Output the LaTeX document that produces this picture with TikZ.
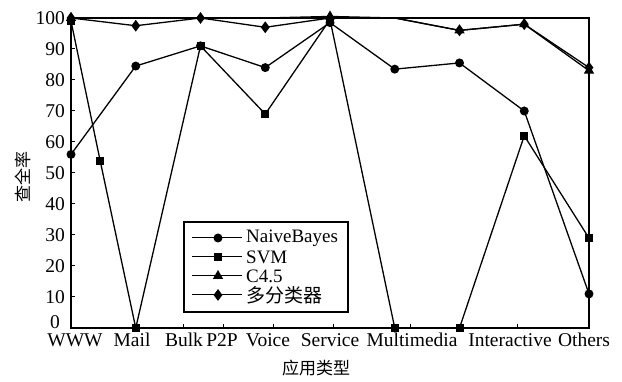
\documentclass[tikz,border=0pt]{standalone}
\usepackage{fontspec}
\setmainfont{Liberation Serif}
\newfontfamily\cjk{Noto Sans CJK SC}
\usetikzlibrary{shapes.geometric,positioning}
\tikzset{
  series/.style={line width=1.3pt},
  dot/.style={circle,fill=black,inner sep=0pt,minimum size=9pt},
  sq/.style={rectangle,fill=black,inner sep=0pt,minimum size=8pt},
  tri/.style={regular polygon,regular polygon sides=3,fill=black,inner sep=0pt,minimum size=12pt},
  dia/.style={diamond,fill=black,inner sep=0pt,minimum width=9pt,minimum height=12pt},
  lab/.style={font=\fontsize{19.5}{19.5}\selectfont,inner sep=0pt},
  keylab/.style={font=\fontsize{19}{19}\selectfont,inner sep=0pt},
  cjklab/.style={font=\cjk\fontsize{17}{17}\selectfont,inner sep=0pt},
}
\begin{document}
\begin{tikzpicture}[x=1pt,y=1pt]
   \useasboundingbox (0,0) rectangle (622,382);
   \coordinate (ll) at (71,54);
   \coordinate (ur) at (589,364);
   % axes frame
   \draw[line width=1.6pt] (ll) rectangle (ur);
   \foreach \v in {10,20,...,100} {
      \draw[line width=1pt] (71,{54+3.1*\v}) -- ++(4,0);
      \node[lab,anchor=east] (y\v) at (65,{54+3.1*\v}) {\v};
   }
   \node[lab,anchor=east] (y0) at (60,60) {0};
   \foreach \xx in {183,223,273,333,410,517}
      \draw[line width=1pt] (\xx,54) -- ++(0,4);
   \foreach \lab/\xx in {WWW/75,Mail/132,Bulk/184,P2P/222,Voice/268,Service/330,Multimedia/412,Interactive/510,Others/584}
      \node[lab,anchor=base] (x\lab) at (\xx,35) {\lab};
   \node[cjklab] (xtitle) at (316,14) {应用类型};
   \node[cjklab,rotate=90] (ytitle) at (23,205) {查全率};
   % data points
   \foreach \n/\p/\v in {0/0/56,1/1/84.5,2/2/91,3/3/84,4/4/98.5,5/5/83.5,6/6/85.5,7/7/70,8/8/11}
      \coordinate (nb\n) at ({71+64.75*\p},{54+3.1*\v});
   \foreach \n/\p/\v in {0/0/99,a/0.45/54,1/1/0,2/2/91,3/3/69,4/4/99.5,5/5/0,6/6/0,7/7/62,8/8/29}
      \coordinate (sv\n) at ({71+64.75*\p},{54+3.1*\v});
   \foreach \n/\p/\v in {0/0/100,1/1/100,2/2/100,3/3/100,4/4/100.5,5/5/100,6/6/96,7/7/98,8/8/83}
      \coordinate (ct\n) at ({71+64.75*\p},{54+3.1*\v});
   \foreach \n/\p/\v in {0/0/100,1/1/97.5,2/2/100,3/3/97,4/4/100,5/5/100,6/6/96,7/7/98,8/8/84}
      \coordinate (mc\n) at ({71+64.75*\p},{54+3.1*\v});
   \draw[series] (nb0) \foreach \i in {1,...,8} {-- (nb\i)};
   \draw[series] (sv0) -- (sva) \foreach \i in {1,...,8} {-- (sv\i)};
   \draw[series] (ct0) \foreach \i in {1,...,8} {-- (ct\i)};
   \draw[series] (mc0) \foreach \i in {1,...,8} {-- (mc\i)};
   \foreach \i in {0,...,8} {
      \node[dot] (nbm\i) at (nb\i) {};
      \node[sq] (svm\i) at (sv\i) {};
   }
   \node[sq] (svma) at (sva) {};
   \foreach \i in {0,4,6,7,8}
      \node[tri] (ctm\i) at (ct\i) {};
   \foreach \i in {0,1,2,3,4,6,7,8}
      \node[dia] (mcm\i) at (mc\i) {};
   % legend
   \draw[line width=1.2pt,fill=white] (184,70) rectangle (348,160);
   \foreach \n/\yy/\m/\t in {nb/144/dot/NaiveBayes,sv/125/sq/SVM,ct/106/tri/C4.5,mc/87/dia/{\cjk 多分类器}} {
      \coordinate (\n a) at (192,\yy);
      \coordinate (\n b) at (242,\yy);
      \draw[line width=1pt] (\n a) -- (\n b);
      \node[\m] (\n key) at (218,\yy) {};
      \node[keylab,anchor=west] (\n txt) at (246,\yy) {\t};
   }
\end{tikzpicture}
\end{document}
